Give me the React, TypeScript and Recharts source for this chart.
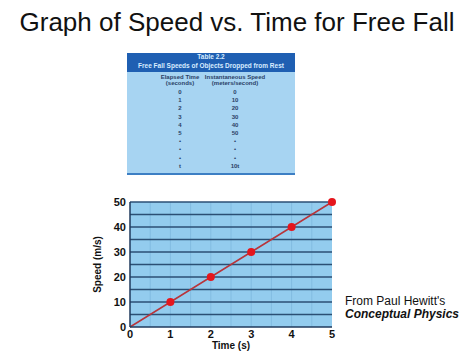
import { LineChart, Line, XAxis, YAxis, CartesianGrid, ReferenceLine } from 'recharts';

const times = [0, 1, 2, 3, 4, 5];
const speeds = [0, 10, 20, 30, 40, 50];
const xTicks = [0, 1, 2, 3, 4, 5];
const yTicks = [0, 10, 20, 30, 40, 50];
const halfSecondLines = [0.5, 1, 1.5, 2, 2.5, 3, 3.5, 4, 4.5];
const speedLines = [5, 10, 15, 20, 25, 30, 35, 40, 45, 50];

const tableTimes = ['0', '1', '2', '3', '4', '5', '•', '•', '•', 't'];
const tableSpeeds = ['0', '10', '20', '30', '40', '50', '•', '•', '•', '10t'];

const FONT = '"Liberation Sans", Arial, sans-serif';

const data = times.map((t, i) => ({ time: t, speed: speeds[i] }));

function RedDot(props: any) {
  const { cx, cy, index } = props;
  // the origin has no marker in the original
  if (index === 0) return <g key={`d${index}`} />;
  return <circle key={`d${index}`} cx={cx} cy={cy} r={4} fill="#e5161d" />;
}

function SpeedTable() {
  const cell: React.CSSProperties = { position: 'absolute', width: 80, textAlign: 'center' };
  return (
    <div
      style={{
        position: 'absolute', left: 127, top: 53, width: 168, height: 122,
        fontFamily: FONT, fontWeight: 700, fontSize: 6, lineHeight: 1,
      }}
    >
      <div style={{ position: 'absolute', left: 0, top: 0, width: 168, height: 19, background: '#1f5fb2' }} />
      <div style={{ position: 'absolute', left: 0, top: 19, width: 168, height: 101, background: '#a7d4f2' }} />
      <div style={{ position: 'absolute', left: 0, top: 120, width: 168, height: 2, background: '#3d7fc4' }} />
      <div style={{ position: 'absolute', left: 0, top: 1, width: 168, textAlign: 'center', color: '#d8ecff', fontSize: 6.5 }}>
        Table 2.2
      </div>
      <div style={{ position: 'absolute', left: 0, top: 10, width: 168, textAlign: 'center', color: '#d8ecff', fontSize: 6.5 }}>
        Free Fall Speeds of Objects Dropped from Rest
      </div>
      <div style={{ ...cell, left: 13, top: 21, color: '#2a3f66' }}>Elapsed Time<br />(seconds)</div>
      <div style={{ ...cell, left: 68, top: 21, color: '#2a3f66' }}>Instantaneous Speed<br />(meters/second)</div>
      {tableTimes.map((t, i) => (
        <div key={`t${i}`} style={{ ...cell, left: 13, top: 36 + i * 8.2, color: '#2a3f66' }}>{t}</div>
      ))}
      {tableSpeeds.map((s, i) => (
        <div key={`s${i}`} style={{ ...cell, left: 68, top: 36 + i * 8.2, color: '#2a3f66' }}>{s}</div>
      ))}
    </div>
  );
}

export default function App() {
  return (
    <div style={{ position: 'absolute', left: 0, top: 0, width: 474, height: 355, background: '#fff', fontFamily: FONT }}>
      <LineChart width={474} height={355} data={data} margin={{ top: 202, right: 142, left: 90, bottom: 0 }}>
        <CartesianGrid fill="#93ccee" horizontal={false} vertical={false} />
        {halfSecondLines.map(v => (
          <ReferenceLine key={`v${v}`} x={v} stroke="#82bce1" strokeWidth={1} />
        ))}
        {speedLines.map(v => (
          <ReferenceLine key={`h${v}`} y={v} stroke="#2b4f74" strokeWidth={1.3} />
        ))}
        <XAxis
          dataKey="time"
          type="number"
          domain={[0, 5]}
          ticks={xTicks}
          height={28}
          tickLine={false}
          tickSize={2}
          tickMargin={1}
          axisLine={{ stroke: '#1f3a5c', strokeWidth: 1.5 }}
          tick={{ fill: '#111', fontSize: 11, fontWeight: 700, fontFamily: FONT }}
          label={{ value: 'Time (s)', position: 'insideBottom', offset: 6, fill: '#111', fontSize: 10, fontWeight: 700, fontFamily: FONT }}
        />
        <YAxis
          type="number"
          domain={[0, 50]}
          ticks={yTicks}
          width={40}
          tickLine={false}
          tickSize={2}
          tickMargin={2}
          axisLine={{ stroke: '#1f3a5c', strokeWidth: 1.5 }}
          tick={{ fill: '#111', fontSize: 11, fontWeight: 700, fontFamily: FONT }}
          label={{
            content: (p: any) => {
              const vb = p.viewBox;
              const x = vb.x + 7;
              const y = vb.y + vb.height / 2;
              return (
                <text x={x} y={y} transform={`rotate(-90, ${x}, ${y})`} textAnchor="middle" dominantBaseline="central"
                  fill="#111" fontSize={10} fontWeight={700} fontFamily={FONT}>
                  Speed (m/s)
                </text>
              );
            },
          }}
        />
        <Line
          type="linear"
          dataKey="speed"
          stroke="#b8353b"
          strokeWidth={1.5}
          dot={RedDot}
          activeDot={false}
          isAnimationActive={false}
        />
      </LineChart>
      <div style={{ position: 'absolute', left: 0, top: 7, width: 474, textAlign: 'center', fontSize: 26, color: '#111', lineHeight: '30px' }}>
        Graph of Speed vs. Time for Free Fall
      </div>
      <SpeedTable />
      <div style={{ position: 'absolute', left: 345, top: 295, fontSize: 12, color: '#111', lineHeight: '13px' }}>
        From Paul Hewitt's
        <br />
        <b><i>Conceptual Physics</i></b>
      </div>
    </div>
  );
}
